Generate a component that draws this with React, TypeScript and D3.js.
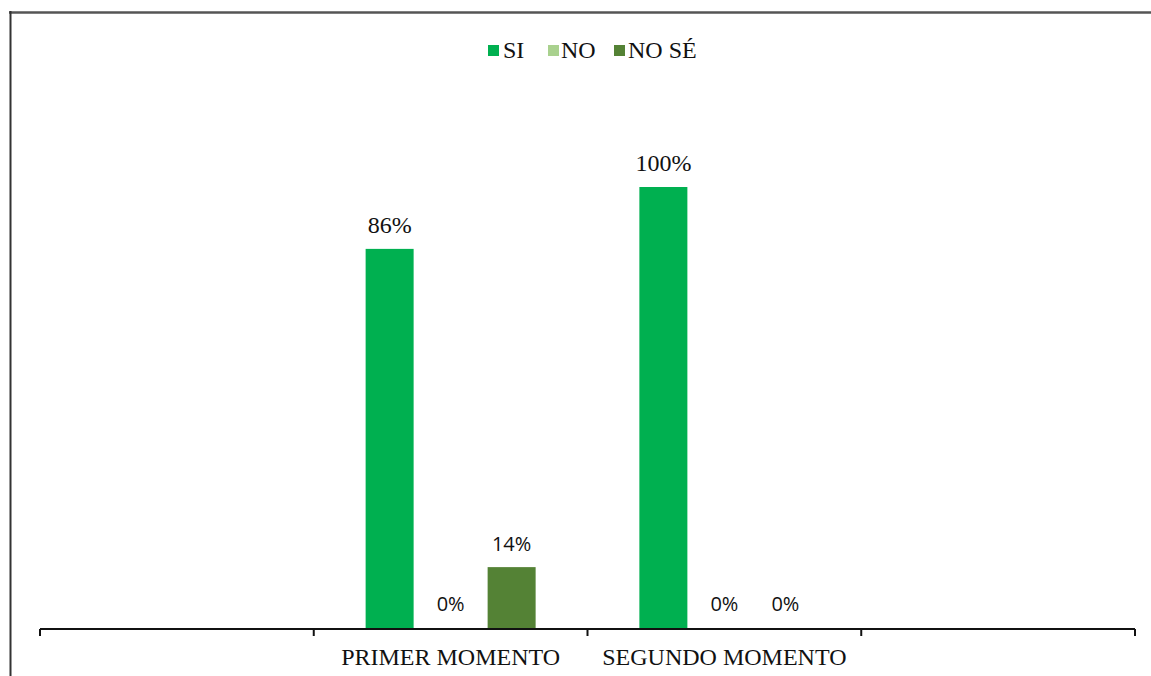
import React from "react";
import * as d3 from "d3";

const categories = ["", "PRIMER MOMENTO", "SEGUNDO MOMENTO", " "];
const seriesNames = ["SI", "NO", "NO SÉ"];
const siValues: (number | null)[] = [null, 86, 100, null];
const noValues: (number | null)[] = [null, 0, 0, null];
const noSeValues: (number | null)[] = [null, 14, 0, null];
const seriesColors = ["#00B050", "#A9D18E", "#548235"];
// label font per series: serif for SI labels, sans for others (as in reference)
const labelFonts = ["serif", "sans", "sans"];

const W = 1151;
const H = 676;

export default function App() {
  const seriesValues = [siValues, noValues, noSeValues];
  const x = d3.scaleBand<string>().domain(categories).range([40, 1135]).paddingInner(0).paddingOuter(0);
  const bw = x.bandwidth();
  const groupW = 183;
  const inner = d3
    .scaleBand<number>()
    .domain([0, 1, 2])
    .range([bw / 2 - groupW / 2, bw / 2 + groupW / 2])
    .paddingInner(13 / 61)
    .paddingOuter(6.5 / 61);
  const y = d3.scaleLinear().domain([0, 100]).range([629, 187]);
  const serif = "'Liberation Serif', 'Times New Roman', serif";
  const sans = "'Open Sans', 'Liberation Sans', sans-serif";

  const legendSq = [488, 548, 614];
  const legendTx = [503, 561, 628];

  return (
    <svg width={W} height={H} style={{ position: "absolute", left: 0, top: 0, background: "#fff" }}>
      <rect x={0} y={0} width={W} height={H} fill="#fff" />
      {/* frame */}
      <line x1={9} x2={W} y1={12.5} y2={12.5} stroke="#555" strokeWidth={2.5} />
      <line x1={10.5} x2={10.5} y1={11} y2={H} stroke="#333" strokeWidth={2} />

      {/* legend */}
      {seriesNames.map((s, i) => (
        <g key={s}>
          <rect x={legendSq[i]} y={45} width={11} height={11} fill={seriesColors[i]} />
          <text x={legendTx[i]} y={58} fontFamily={serif} fontSize={24} fill="#111">
            {s}
          </text>
        </g>
      ))}

      {/* bars */}
      {seriesValues.map((vals, si) =>
        categories.map((c, ci) => {
          const v = vals[ci];
          if (v === null) return null;
          const bx = (x(c) as number) + (inner(si) as number);
          return (
            <rect
              key={`${si}-${ci}`}
              x={bx}
              y={y(v)}
              width={inner.bandwidth()}
              height={y(0) - y(v)}
              fill={seriesColors[si]}
            />
          );
        })
      )}

      {/* labels */}
      {seriesValues.map((vals, si) =>
        categories.map((c, ci) => {
          const v = vals[ci];
          if (v === null) return null;
          const cx = (x(c) as number) + (inner(si) as number) + inner.bandwidth() / 2;
          const isSerif = labelFonts[si] === "serif";
          return (
            <text
              key={`l-${si}-${ci}`}
              x={cx}
              y={y(v) - (isSerif ? 16 : v === 0 ? 18 : 16)}
              textAnchor="middle"
              fontFamily={isSerif ? serif : sans}
              fontSize={isSerif ? 24 : 20}
              fill="#111"
            >
              {`${v}%`}
            </text>
          );
        })
      )}

      {/* x axis */}
      <line x1={40} x2={1135} y1={629} y2={629} stroke="#111" strokeWidth={2} />
      {[...categories.map((c) => x(c) as number), 1135].map((t, i) => (
        <line key={i} x1={t} x2={t} y1={629} y2={636} stroke="#111" strokeWidth={2} />
      ))}
      {categories.map((c) => (
        <text
          key={`c-${c}`}
          x={(x(c) as number) + bw / 2}
          y={665}
          textAnchor="middle"
          fontFamily={serif}
          fontSize={24}
          fill="#111"
        >
          {c}
        </text>
      ))}
    </svg>
  );
}
